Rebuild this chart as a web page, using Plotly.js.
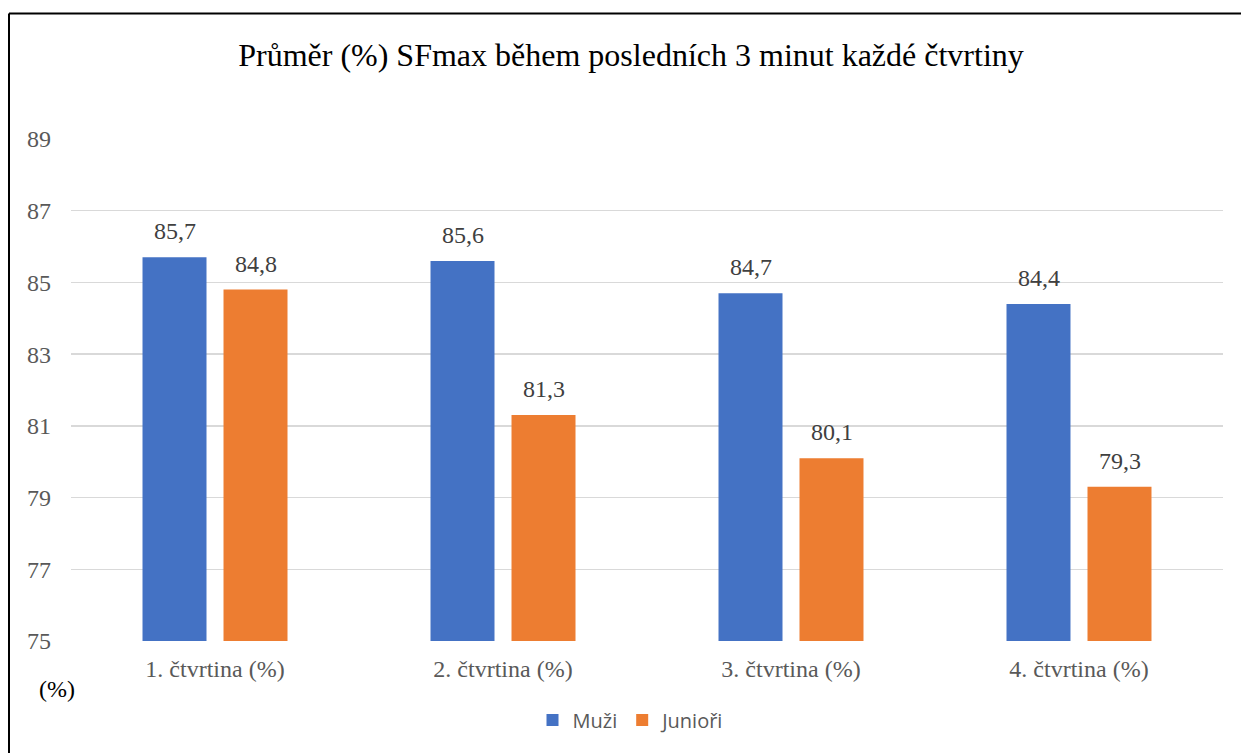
<!DOCTYPE html>
<html>
<head>
<meta charset="utf-8">
<script src="https://cdn.plot.ly/plotly-3.0.1.min.js"></script>
<style>
html,body{margin:0;padding:0;background:#fff;}
#chart{width:1241px;height:753px;}
</style>
</head>
<body>
<div id="chart"></div>
<script>
const categories = ["1. čtvrtina (%)", "2. čtvrtina (%)", "3. čtvrtina (%)", "4. čtvrtina (%)"];
const muzi = [85.7, 85.6, 84.7, 84.4];
const juniori = [84.8, 81.3, 80.1, 79.3];
const seriesNames = ["Muži", "Junioři"];
const yTicks = [75, 77, 79, 81, 83, 85, 87, 89];

const serif = "Liberation Serif, Times New Roman, serif";
const L = 71, R = 1223, T = 139, B = 641;
const W = R - L, H = B - T;
const px = x => (x - L) / W;
const py = y => (B - y) / H;

const common = {
  type: "bar",
  x: categories,
  textposition: "none",
  hoverinfo: "skip"
};

const data = [
  Object.assign({}, common, {name: seriesNames[0], y: muzi, marker: {color: "#4472C4"}}),
  Object.assign({}, common, {name: seriesNames[1], y: juniori, marker: {color: "#ED7D31"}})
];

const fmt = v => v.toFixed(1).replace(".", ",");
const labelAnns = [];
[[muzi, -40.5], [juniori, 40.5]].forEach(([vals, dx]) => {
  vals.forEach((v, i) => {
    labelAnns.push({
      x: categories[i], y: v, xref: "x", yref: "y",
      text: fmt(v), showarrow: false, xanchor: "center", yanchor: "bottom",
      xshift: dx, yshift: 11,
      font: {family: serif, size: 24, color: "#404040"}
    });
  });
});

const layout = {
  width: 1241, height: 753,
  margin: {l: L, r: 1241 - R, t: T, b: 753 - B},
  paper_bgcolor: "#fff", plot_bgcolor: "#fff",
  separators: ", ",
  barmode: "group",
  bargap: 0.4375,
  bargroupgap: 0.21,
  title: {
    text: "Průměr (%) SFmax během posledních 3 minut každé čtvrtiny",
    font: {family: serif, size: 32, color: "#000"},
    xref: "container", x: 631 / 1241, xanchor: "center",
    yref: "container", y: 1 - 55 / 753, yanchor: "middle"
  },
  xaxis: {
    showgrid: false, zeroline: false, showline: false,
    ticks: "", ticklabelstandoff: 11,
    tickfont: {family: serif, size: 24, color: "#595959"}
  },
  yaxis: {
    range: [75, 89], tickvals: yTicks, ticktext: yTicks.map(String),
    showgrid: true, gridcolor: "#d9d9d9", gridwidth: 1.5,
    zeroline: false, showline: false, ticks: "", ticklabelstandoff: 19,
    tickfont: {family: serif, size: 24, color: "#595959"}
  },
  showlegend: true,
  legend: {
    orientation: "h", xref: "paper", x: px(631), xanchor: "center",
    yref: "paper", y: py(720), yanchor: "middle",
    font: {family: "Open Sans, sans-serif", size: 20, color: "#595959"},
    itemwidth: 30, tracegroupgap: 0
  },
  annotations: labelAnns.concat([{
    text: "(%)", xref: "paper", yref: "paper", x: px(57), y: py(689),
    xanchor: "center", yanchor: "middle", showarrow: false,
    font: {family: serif, size: 24, color: "#000"}
  }]),
  shapes: [
    {type: "line", xref: "paper", yref: "paper", x0: px(9), x1: px(1260), y0: py(13.5), y1: py(13.5), line: {color: "#000", width: 2}},
    {type: "line", xref: "paper", yref: "paper", x0: px(9), x1: px(9), y0: py(13.5), y1: py(770), line: {color: "#000", width: 2}}
  ]
};

Plotly.newPlot("chart", data, layout, {displayModeBar: false, staticPlot: true});
</script>
</body>
</html>
